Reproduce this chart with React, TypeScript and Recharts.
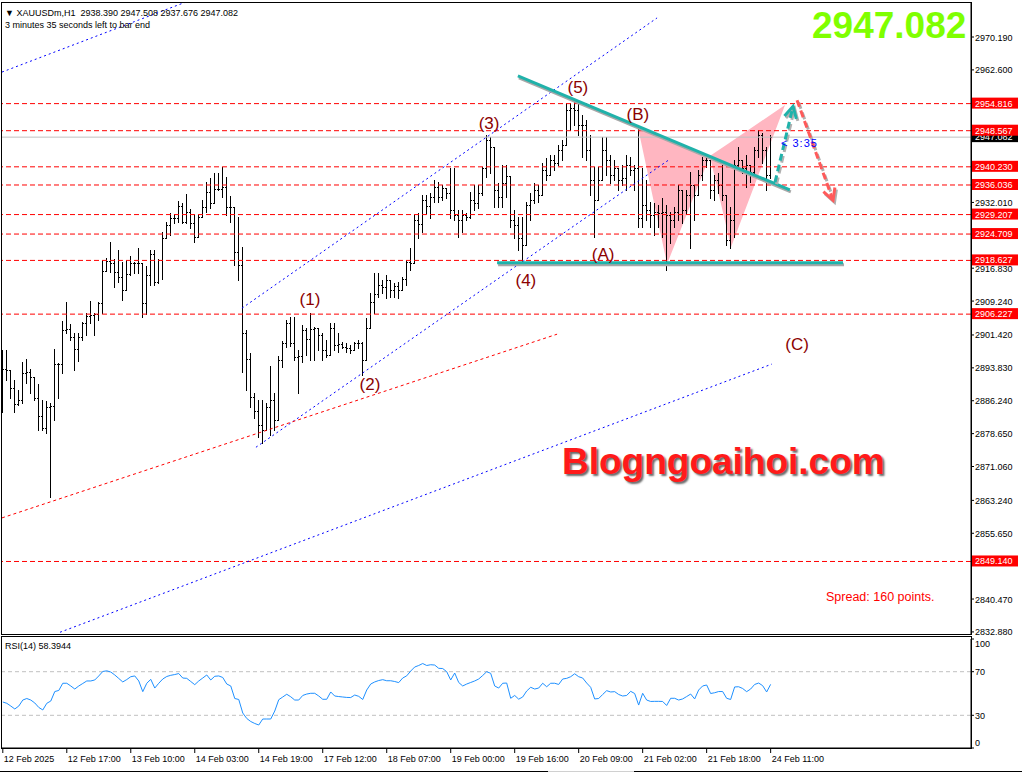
import React from "react";
import {
  ComposedChart,
  LineChart,
  Line,
  Bar,
  Area,
  XAxis,
  YAxis,
  ReferenceLine,
  ReferenceDot,
} from "recharts";

const FONT = "'Liberation Sans', Arial, sans-serif";
const W = 1022;
const MAIN_H = 640;
const X_DOMAIN: [number, number] = [-0.2, 242.1];
const PRICE_DOMAIN: [number, number] = [2832.4, 2978.04];

// XAUUSDm H1, one entry per bar
const opens = [
  2888.7, 2893.5, 2893.3, 2889.2, 2885.5, 2886.4, 2892.6, 2892.8, 2891.7, 2886.8,
  2882.7, 2879.9, 2884.8, 2885.0, 2894.7, 2894.7, 2902.5, 2902.8, 2900.9, 2898.2,
  2900.9, 2904.2, 2905.8, 2906.0, 2906.2, 2908.8, 2916.2, 2918.5, 2918.0, 2915.9,
  2914.8, 2911.8, 2915.5, 2918.0, 2918.0, 2918.0, 2908.8, 2915.2, 2920.1, 2913.6,
  2918.7, 2923.8, 2926.8, 2928.4, 2928.4, 2931.2, 2927.5, 2929.8, 2927.2, 2924.0,
  2928.6, 2930.9, 2934.4, 2931.9, 2935.1, 2935.1, 2935.5, 2930.9, 2930.9, 2920.5,
  2917.5, 2901.8, 2895.8, 2887.1, 2883.8, 2880.6, 2879.5, 2884.8, 2886.4, 2881.8,
  2895.6, 2899.5, 2904.2, 2899.5, 2896.3, 2896.5, 2902.5, 2900.5, 2902.8, 2903.0,
  2901.4, 2897.9, 2896.8, 2903.0, 2899.1, 2899.3, 2898.6, 2898.4, 2897.9, 2899.5,
  2899.5, 2895.6, 2903.0, 2909.0, 2910.8, 2912.9, 2912.5, 2914.1, 2911.8, 2912.7,
  2911.8, 2914.3, 2918.2, 2918.0, 2927.9, 2927.0, 2932.5, 2931.2, 2933.2, 2935.5,
  2933.2, 2935.3, 2934.2, 2930.2, 2929.1, 2927.9, 2929.1, 2928.6, 2932.5, 2931.9,
  2934.2, 2939.9, 2946.4, 2944.8, 2934.9, 2933.2, 2936.5, 2938.1, 2927.9, 2926.8,
  2923.8, 2922.2, 2931.4, 2932.5, 2934.9, 2933.7, 2939.5, 2938.3, 2941.8, 2941.1,
  2944.1, 2945.2, 2953.3, 2953.8, 2953.3, 2949.9, 2949.9, 2944.1, 2937.2, 2932.5,
  2937.2, 2944.1, 2941.8, 2938.3, 2939.9, 2937.2, 2937.6, 2940.6, 2939.5, 2939.9,
  2928.4, 2931.4, 2930.2, 2929.1, 2929.8, 2929.5, 2929.8, 2929.1, 2927.9, 2929.8,
  2934.9, 2930.2, 2933.7, 2936.0, 2933.7, 2938.3, 2941.8, 2941.8, 2934.9, 2937.2,
  2936.0, 2933.7, 2923.3, 2927.9, 2940.6, 2941.8, 2939.9, 2940.6, 2939.0, 2944.1,
  2947.5, 2944.1, 2938.39,
];
const highs = [
  2897.9, 2897.9, 2893.3, 2891.0, 2888.7, 2895.2, 2895.8, 2893.5, 2891.7, 2890.1,
  2886.4, 2886.2, 2885.7, 2898.2, 2894.9, 2904.6, 2909.0, 2903.9, 2901.8, 2901.8,
  2904.4, 2906.5, 2909.2, 2906.5, 2909.0, 2918.7, 2919.2, 2922.8, 2918.9, 2921.0,
  2918.2, 2918.7, 2919.6, 2918.2, 2921.5, 2918.0, 2917.3, 2921.0, 2921.0, 2918.9,
  2925.2, 2927.5, 2929.5, 2929.3, 2932.3, 2931.9, 2933.9, 2930.5, 2929.1, 2929.1,
  2932.5, 2936.7, 2937.6, 2938.8, 2938.8, 2940.2, 2937.9, 2933.5, 2930.9, 2928.6,
  2921.7, 2902.5, 2897.2, 2888.0, 2886.4, 2886.4, 2885.7, 2894.2, 2888.0, 2896.5,
  2900.0, 2904.8, 2905.5, 2905.5, 2897.9, 2903.7, 2903.0, 2906.5, 2903.2, 2903.0,
  2901.8, 2900.2, 2904.2, 2904.2, 2901.8, 2899.8, 2899.5, 2899.1, 2899.8, 2900.2,
  2899.8, 2905.3, 2911.1, 2915.7, 2915.7, 2914.1, 2915.2, 2914.1, 2913.4, 2913.6,
  2914.8, 2918.7, 2921.5, 2929.1, 2929.5, 2933.7, 2933.7, 2934.2, 2937.2, 2936.7,
  2936.0, 2935.3, 2939.9, 2939.9, 2930.2, 2930.2, 2929.5, 2934.4, 2936.0, 2936.0,
  2940.2, 2947.5, 2947.1, 2944.8, 2936.5, 2940.6, 2940.6, 2938.1, 2930.2, 2928.6,
  2928.6, 2932.1, 2934.2, 2936.5, 2936.0, 2941.1, 2942.2, 2942.9, 2942.9, 2945.2,
  2946.4, 2954.9, 2954.9, 2955.6, 2955.6, 2952.2, 2951.0, 2947.5, 2940.2, 2940.2,
  2947.1, 2947.1, 2942.9, 2941.8, 2939.9, 2940.6, 2942.9, 2942.5, 2940.6, 2949.2,
  2939.9, 2937.2, 2932.1, 2931.9, 2931.4, 2933.0, 2931.4, 2929.8, 2930.9, 2936.0,
  2934.9, 2934.9, 2939.0, 2936.0, 2939.5, 2942.5, 2942.9, 2941.8, 2938.3, 2938.8,
  2940.6, 2933.7, 2930.9, 2941.8, 2944.8, 2941.8, 2942.9, 2940.6, 2944.8, 2948.7,
  2948.0, 2944.8, 2947.508,
];
const lows = [
  2883.6, 2891.0, 2886.8, 2883.6, 2885.2, 2885.7, 2890.3, 2888.0, 2886.4, 2879.5,
  2879.5, 2878.8, 2864.0, 2881.8, 2886.8, 2892.6, 2901.8, 2900.2, 2893.3, 2895.4,
  2900.2, 2901.4, 2904.2, 2901.4, 2904.8, 2906.5, 2916.2, 2915.9, 2912.5, 2913.6,
  2909.5, 2911.8, 2915.2, 2915.7, 2915.7, 2905.5, 2906.2, 2912.9, 2912.9, 2913.4,
  2914.3, 2923.8, 2924.5, 2927.2, 2927.5, 2927.2, 2927.2, 2926.1, 2922.8, 2924.0,
  2928.6, 2929.8, 2930.7, 2931.9, 2934.9, 2933.2, 2929.1, 2927.5, 2917.5, 2914.1,
  2892.8, 2888.7, 2884.8, 2882.2, 2877.8, 2876.5, 2879.5, 2878.3, 2879.5, 2881.8,
  2894.0, 2898.6, 2898.8, 2895.6, 2888.0, 2895.2, 2896.8, 2895.6, 2895.6, 2897.9,
  2895.6, 2896.3, 2896.8, 2897.9, 2897.5, 2898.4, 2897.5, 2897.2, 2897.9, 2898.4,
  2892.2, 2895.6, 2903.0, 2906.5, 2910.2, 2911.1, 2909.9, 2910.2, 2910.2, 2909.9,
  2911.8, 2912.9, 2916.4, 2918.0, 2923.8, 2925.2, 2929.5, 2928.4, 2932.1, 2932.1,
  2932.5, 2933.0, 2928.4, 2927.9, 2924.0, 2925.2, 2927.9, 2928.4, 2930.2, 2930.7,
  2933.7, 2937.9, 2938.8, 2930.9, 2930.9, 2930.9, 2933.2, 2926.3, 2923.8, 2921.0,
  2918.2, 2922.2, 2927.9, 2931.9, 2932.1, 2933.7, 2937.2, 2938.3, 2939.5, 2940.6,
  2941.8, 2945.2, 2948.7, 2949.9, 2947.5, 2942.5, 2941.8, 2933.7, 2924.0, 2932.5,
  2937.2, 2938.3, 2936.5, 2937.2, 2934.9, 2936.0, 2934.9, 2938.3, 2934.9, 2926.3,
  2926.3, 2927.9, 2926.3, 2924.5, 2926.3, 2924.0, 2916.4, 2922.6, 2926.3, 2927.9,
  2927.2, 2929.5, 2921.5, 2927.9, 2933.7, 2937.2, 2940.2, 2933.0, 2932.5, 2934.2,
  2932.5, 2922.2, 2921.5, 2924.0, 2940.2, 2938.8, 2935.5, 2936.7, 2938.8, 2942.5,
  2941.1, 2934.9, 2937.676,
];
const closes = [
  2893.5, 2893.3, 2889.2, 2885.5, 2886.4, 2892.6, 2892.8, 2891.7, 2886.8, 2882.7,
  2879.9, 2884.8, 2885.0, 2894.7, 2894.7, 2902.5, 2902.8, 2900.9, 2898.2, 2900.9,
  2904.2, 2905.8, 2906.0, 2906.2, 2908.8, 2916.2, 2918.5, 2918.0, 2915.9, 2914.8,
  2911.8, 2915.5, 2918.0, 2918.0, 2918.0, 2908.8, 2915.2, 2920.1, 2913.6, 2918.7,
  2923.8, 2926.8, 2928.4, 2928.4, 2931.2, 2927.5, 2929.8, 2927.2, 2924.0, 2928.6,
  2930.9, 2934.4, 2931.9, 2935.1, 2935.1, 2935.5, 2930.9, 2930.9, 2920.5, 2917.5,
  2901.8, 2895.8, 2887.1, 2883.8, 2880.6, 2879.5, 2884.8, 2886.4, 2881.8, 2895.6,
  2899.5, 2904.2, 2899.5, 2896.3, 2896.5, 2902.5, 2900.5, 2902.8, 2903.0, 2901.4,
  2897.9, 2896.8, 2903.0, 2899.1, 2899.3, 2898.6, 2898.4, 2897.9, 2899.5, 2899.5,
  2895.6, 2903.0, 2909.0, 2910.8, 2912.9, 2912.5, 2914.1, 2911.8, 2912.7, 2911.8,
  2914.3, 2918.2, 2918.0, 2927.9, 2927.0, 2932.5, 2931.2, 2933.2, 2935.5, 2933.2,
  2935.3, 2934.2, 2930.2, 2929.1, 2927.9, 2929.1, 2928.6, 2932.5, 2931.9, 2934.2,
  2939.9, 2946.4, 2944.8, 2934.9, 2933.2, 2936.5, 2938.1, 2927.9, 2926.8, 2923.8,
  2922.2, 2931.4, 2932.5, 2934.9, 2933.7, 2939.5, 2938.3, 2941.8, 2941.1, 2944.1,
  2945.2, 2953.3, 2953.8, 2953.3, 2949.9, 2949.9, 2944.1, 2937.2, 2932.5, 2937.2,
  2944.1, 2941.8, 2938.3, 2939.9, 2937.2, 2937.6, 2940.6, 2939.5, 2939.9, 2928.4,
  2931.4, 2930.2, 2929.1, 2929.8, 2929.5, 2929.8, 2929.1, 2927.9, 2929.8, 2934.9,
  2930.2, 2933.7, 2936.0, 2933.7, 2938.3, 2941.8, 2941.8, 2934.9, 2937.2, 2936.0,
  2933.7, 2923.3, 2927.9, 2940.6, 2941.8, 2939.9, 2940.6, 2939.0, 2944.1, 2947.5,
  2944.1, 2938.3, 2947.082,
];

// RSI(14)
const rsiValues = [
  42.2, 41.0, 38.5, 35.8, 38.5, 44.0, 45.4, 44.0, 41.3, 37.2,
  34.9, 41.0, 43.1, 51.8, 52.8, 59.4, 59.4, 56.9, 54.1, 56.9,
  59.2, 61.5, 61.5, 62.4, 66.1, 70.2, 70.8, 69.7, 67.0, 63.8,
  60.6, 62.8, 65.4, 66.1, 61.5, 51.7, 59.4, 63.0, 55.0, 59.4,
  63.3, 65.6, 66.7, 67.4, 68.3, 64.2, 63.9, 61.0, 58.1, 61.5,
  64.2, 67.0, 62.4, 65.8, 66.1, 64.7, 58.7, 56.9, 45.4, 44.5,
  32.1, 27.1, 24.3, 22.5, 21.1, 26.6, 26.6, 26.6, 33.9, 44.3,
  46.8, 49.3, 47.0, 44.0, 44.0, 48.2, 49.5, 50.2, 50.2, 47.7,
  44.7, 44.7, 51.4, 47.7, 47.2, 46.8, 46.4, 46.3, 48.6, 47.4,
  44.5, 53.2, 58.7, 60.6, 61.9, 62.7, 61.7, 61.7, 61.0, 60.0,
  64.2, 66.2, 70.6, 74.3, 75.7, 77.5, 75.7, 76.4, 76.1, 73.1,
  72.9, 70.0, 62.4, 68.8, 60.1, 56.9, 58.7, 60.1, 61.5, 63.3,
  66.5, 70.0, 68.5, 56.9, 55.0, 59.4, 59.6, 45.6, 48.2, 44.8,
  46.8, 52.3, 55.7, 54.1, 55.0, 59.4, 56.2, 59.4, 59.4, 58.3,
  63.3, 63.9, 65.4, 68.1, 65.4, 64.2, 59.6, 55.7, 45.0, 45.4,
  49.1, 52.6, 51.4, 51.7, 49.1, 47.7, 48.2, 52.0, 50.0, 39.4,
  50.2, 44.0, 42.7, 42.8, 42.8, 42.7, 39.0, 45.6, 45.6, 44.0,
  45.0, 47.2, 49.5, 45.0, 53.2, 56.9, 57.8, 50.0, 50.7, 51.8,
  51.8, 45.6, 44.5, 56.0, 56.2, 54.6, 51.7, 54.1, 58.3, 59.6,
  57.2, 51.4, 58.3944,
];

const priceTicks = [
  2970.19, 2962.6, 2932.01, 2916.83, 2909.24, 2901.42, 2893.83,
  2886.24, 2878.65, 2871.06, 2863.24, 2855.65, 2840.47, 2832.88,
];
const levels = [2954.816, 2948.567, 2940.23, 2936.036, 2929.207, 2924.709, 2918.627, 2906.227, 2849.14];
const bidPrice = 2947.082;

const timeTicks = [0, 16, 32, 48, 64, 80, 96, 112, 128, 144, 160, 176, 192];
const timeLabels = [
  "12 Feb 2025", "12 Feb 17:00", "13 Feb 10:00", "14 Feb 03:00", "14 Feb 19:00",
  "17 Feb 12:00", "18 Feb 07:00", "19 Feb 00:00", "19 Feb 16:00", "20 Feb 09:00",
  "21 Feb 02:00", "21 Feb 18:00", "24 Feb 11:00",
];

const waveNames = ["(1)", "(2)", "(3)", "(4)", "(5)", "(A)", "(B)", "(C)"];
const waveBars = [76.8, 91.8, 121.6, 130.8, 143.8, 150.1, 158.8, 198.6];
const wavePrices = [2909.5, 2889.9, 2950.3, 2914.1, 2958.6, 2920.1, 2952.2, 2899.3];

// pink W pattern (bar position, lower edge, upper edge)
const patternBars = [158.8, 166.1, 176.8, 182.1, 195.6];
const patternLow = [2949.4, 2917.8, 2942.7, 2921.7, 2954.5];
const patternHigh = [2949.4, 2946.7, 2942.7, 2946.0, 2954.5];

// drawn objects: [bar1, price1, bar2, price2]
const dottedLines = [
  { p: [-0.2, 2962.1, 49.3, 2979.5], color: "#0000ff", dash: "2 3" },
  { p: [14.3, 2832.8, 192.3, 2894.7], color: "#0000ff", dash: "2 3" },
  { p: [59.8, 2907.6, 163.6, 2974.6], color: "#0000ff", dash: "2 3" },
  { p: [63.3, 2875.5, 166.8, 2942.0], color: "#0000ff", dash: "2 3" },
  { p: [-0.2, 2859.2, 138.6, 2901.6], color: "#ff0000", dash: "3 3" },
];
const tealLines = [
  [128.8, 2961.2, 196.8, 2934.9],
  [123.6, 2918.1, 210.1, 2918.1],
];
const arrows = [
  { p: [193.1, 2936.7, 197.6, 2954.2], color: "#20b2aa" },
  { p: [198.6, 2955.6, 207.6, 2932.5], color: "#ff5a5a" },
];

const bars = opens.map((o, i) => ({
  idx: i,
  range: [lows[i], highs[i]],
  open: o,
  high: highs[i],
  low: lows[i],
  close: closes[i],
}));
const rsiRows = rsiValues.map((v, i) => ({ idx: i, rsi: v }));
const patternRows = patternBars.map((b, i) => ({ idx: b, band: [patternLow[i], patternHigh[i]] }));

function OhlcBar(props: any) {
  const { x, y, width, height, payload } = props;
  if (x == null || y == null || !payload) return null;
  const cx = Math.round(x + width / 2 - 0.5);
  const top = Math.round(y);
  const h = Math.max(1, Math.round(y + height) - top + 1);
  const span = payload.high - payload.low || 1;
  const oy = Math.round(y + ((payload.high - payload.open) / span) * height);
  const cy = Math.round(y + ((payload.high - payload.close) / span) * height);
  return (
    <g fill="#000">
      <rect x={cx} y={top} width={1} height={h} />
      <rect x={cx - 1} y={oy} width={1} height={1} />
      <rect x={cx + 1} y={cy} width={1} height={1} />
    </g>
  );
}

function PriceTick(props: any) {
  const { x, y, payload } = props;
  return (
    <text x={x} y={y + 3.5} fontSize={9} fontFamily={FONT} fill="#000">
      {payload.value.toFixed(3)}
    </text>
  );
}

function TimeTick(props: any) {
  const { x, y, payload, index } = props;
  const i = timeTicks.indexOf(payload.value);
  return (
    <text x={x + 1} y={y + 7} fontSize={9} fontFamily={FONT} fill="#000">
      {timeLabels[i >= 0 ? i : index]}
    </text>
  );
}

function RsiTick(props: any) {
  const { x, y, payload } = props;
  const v = payload.value;
  const dy = v === 100 ? 7.5 : v === 0 ? -2.5 : 3.5;
  return (
    <text x={x} y={y + dy} fontSize={9} fontFamily={FONT} fill="#000">
      {v}
    </text>
  );
}

function tag(text: string, bg: string) {
  return (props: any) => {
    const vb = props.viewBox || {};
    const left = vb.x + vb.width + 1;
    return (
      <g>
        <rect x={left} y={vb.y - 6} width={46} height={11} fill={bg} />
        <text x={left + 3} y={vb.y + 3} fill="#fff" fontSize={9} fontFamily={FONT}>
          {text}
        </text>
      </g>
    );
  };
}

function tealShape(props: any) {
  const { x1, y1, x2, y2, clipPath } = props;
  return (
    <g clipPath={clipPath}>
      <line x1={x1 + 1} y1={y1 + 2} x2={x2 + 1} y2={y2 + 2} stroke="#a8a8a8" strokeWidth={3} />
      <line x1={x1} y1={y1} x2={x2} y2={y2} stroke="#20b2aa" strokeWidth={3} />
    </g>
  );
}

function arrowShape(color: string) {
  return (props: any) => {
    const { x1, y1, x2, y2 } = props;
    const len = Math.hypot(x2 - x1, y2 - y1) || 1;
    const ux = (x2 - x1) / len;
    const uy = (y2 - y1) / len;
    const a = (28 * Math.PI) / 180;
    const hl = 13;
    const w1x = x2 - hl * (ux * Math.cos(a) - uy * Math.sin(a));
    const w1y = y2 - hl * (uy * Math.cos(a) + ux * Math.sin(a));
    const w2x = x2 - hl * (ux * Math.cos(a) + uy * Math.sin(a));
    const w2y = y2 - hl * (uy * Math.cos(a) - ux * Math.sin(a));
    const path = `M${x1},${y1}L${x2},${y2}`;
    const head = `M${w1x},${w1y}L${x2},${y2}L${w2x},${w2y}`;
    return (
      <g fill="none" strokeWidth={3}>
        <g transform="translate(1.5,2)" stroke="#b0b0b0">
          <path d={path} strokeDasharray="7 4" />
          <path d={head} />
        </g>
        <path d={path} stroke={color} strokeDasharray="7 4" />
        <path d={head} stroke={color} />
      </g>
    );
  };
}

function waveShape(text: string) {
  return (props: any) => (
    <text
      x={props.cx}
      y={props.cy}
      textAnchor="middle"
      dominantBaseline="central"
      fontSize={17}
      fontFamily={FONT}
      fill="#8b0000"
    >
      {text}
    </text>
  );
}

const abs = (s: React.CSSProperties): React.CSSProperties => ({ position: "absolute", ...s });

export default function App() {
  return (
    <div style={abs({ left: 0, top: 0, width: W, height: 773, background: "#fff", overflow: "hidden" })}>
      {/* pattern layer */}
      <div style={abs({ left: 0, top: 0 })}>
        <ComposedChart width={W} height={MAIN_H} data={patternRows} margin={{ top: 3, right: 51, bottom: 6, left: 2 }}>
          <XAxis dataKey="idx" type="number" domain={X_DOMAIN} allowDataOverflow hide />
          <YAxis type="number" domain={PRICE_DOMAIN} allowDataOverflow hide />
          <Area dataKey="band" type="linear" stroke="none" fill="#ffb6c1" fillOpacity={1} isAnimationActive={false} />
        </ComposedChart>
      </div>

      {/* price pane */}
      <div style={abs({ left: 0, top: 0 })}>
        <ComposedChart width={W} height={MAIN_H} data={bars} margin={{ top: 3, right: 0, bottom: 6, left: 2 }}>
          <XAxis dataKey="idx" type="number" domain={X_DOMAIN} allowDataOverflow hide />
          <YAxis
            orientation="right"
            type="number"
            width={51}
            domain={PRICE_DOMAIN}
            allowDataOverflow
            ticks={priceTicks}
            interval={0}
            tickSize={3}
            tickMargin={1}
            axisLine={{ stroke: "#000" }}
            tickLine={{ stroke: "#000" }}
            tick={<PriceTick />}
          />
          <ReferenceLine y={bidPrice} stroke="#c0c0c0" label={tag(bidPrice.toFixed(3), "#000")} />
          {levels.map((lv) => (
            <ReferenceLine
              key={lv}
              y={lv}
              stroke="#ff0000"
              strokeDasharray="5 3"
              label={tag(lv.toFixed(3), "#ff0000")}
            />
          ))}
          {dottedLines.map((l, i) => (
            <ReferenceLine
              key={`d${i}`}
              segment={[{ x: l.p[0], y: l.p[1] }, { x: l.p[2], y: l.p[3] }]}
              stroke={l.color}
              strokeDasharray={l.dash}
              ifOverflow="hidden"
            />
          ))}
          <Bar dataKey="range" barSize={3} isAnimationActive={false} shape={(p: any) => <OhlcBar {...p} />} />
          {tealLines.map((l, i) => (
            <ReferenceLine
              key={`t${i}`}
              segment={[{ x: l[0], y: l[1] }, { x: l[2], y: l[3] }]}
              ifOverflow="hidden"
              shape={tealShape}
            />
          ))}
          {arrows.map((a, i) => (
            <ReferenceLine
              key={`a${i}`}
              segment={[{ x: a.p[0], y: a.p[1] }, { x: a.p[2], y: a.p[3] }]}
              ifOverflow="visible"
              shape={arrowShape(a.color)}
            />
          ))}
          {waveNames.map((n, i) => (
            <ReferenceDot key={n} x={waveBars[i]} y={wavePrices[i]} r={0} shape={waveShape(n)} />
          ))}
        </ComposedChart>
      </div>

      {/* RSI pane */}
      <div style={abs({ left: 0, top: 636 })}>
        <LineChart width={W} height={137} data={rsiRows} margin={{ top: 3, right: 0, bottom: 0, left: 2 }}>
          <XAxis
            dataKey="idx"
            type="number"
            domain={X_DOMAIN}
            allowDataOverflow
            ticks={timeTicks}
            interval={0}
            height={25}
            tickSize={5}
            tickMargin={2}
            axisLine={{ stroke: "#000" }}
            tickLine={{ stroke: "#000" }}
            tick={<TimeTick />}
          />
          <YAxis
            orientation="right"
            type="number"
            width={51}
            domain={[0, 100]}
            allowDataOverflow
            ticks={[0, 30, 70, 100]}
            interval={0}
            tickSize={3}
            tickMargin={1}
            axisLine={{ stroke: "#000" }}
            tickLine={{ stroke: "#000" }}
            tick={<RsiTick />}
          />
          <ReferenceLine y={70} stroke="#c0c0c0" strokeDasharray="4 3" />
          <ReferenceLine y={30} stroke="#c0c0c0" strokeDasharray="4 3" />
          <Line dataKey="rsi" type="linear" stroke="#1e90ff" strokeWidth={1} dot={false} isAnimationActive={false} />
        </LineChart>
      </div>

      {/* pane frames */}
      <div style={abs({ left: 1, top: 2, width: 971, height: 633, border: "1px solid #000", boxSizing: "border-box", pointerEvents: "none" })} />
      <div style={abs({ left: 1, top: 636, width: 971, height: 113, border: "1px solid #000", boxSizing: "border-box", pointerEvents: "none" })} />
      <div style={abs({ left: 0, top: 771, width: 548, height: 1, background: "#000" })} />
      <div style={abs({ left: 548, top: 771, width: 86, height: 1, background: "#d0d0d0" })} />
      <div style={abs({ left: 634, top: 771, width: 388, height: 1, background: "#000" })} />

      {/* texts */}
      <div style={abs({ left: 5, top: 7, fontFamily: FONT, fontSize: 9, lineHeight: "12px", whiteSpace: "pre", color: "#000" })}>
        {"▼ XAUUSDm,H1  2938.390 2947.508 2937.676 2947.082"}
      </div>
      <div style={abs({ left: 5, top: 19, fontFamily: FONT, fontSize: 9, lineHeight: "12px", whiteSpace: "pre", color: "#000" })}>
        3 minutes 35 seconds left to bar end
      </div>
      <div style={abs({ left: 812, top: 7, fontFamily: FONT, fontSize: 37, fontWeight: 700, lineHeight: "37px", color: "#7fff00" })}>
        2947.082
      </div>
      <div style={abs({ left: 781, top: 137, fontFamily: FONT, fontSize: 11, lineHeight: "12px", letterSpacing: 1, color: "#0000ff" })}>
        {"< 3:35"}
      </div>
      <div
        style={abs({
          left: 562,
          top: 443,
          fontFamily: FONT,
          fontSize: 37,
          fontWeight: 700,
          lineHeight: "37px",
          color: "#ff1a1a",
          textShadow: "2px 2px 2px #6a6a6a",
        })}
      >
        Blogngoaihoi.com
      </div>
      <div style={abs({ left: 826, top: 590, fontFamily: FONT, fontSize: 12.5, lineHeight: "14px", color: "#ff0000" })}>
        Spread: 160 points.
      </div>
      <div style={abs({ left: 5, top: 640, fontFamily: FONT, fontSize: 9, lineHeight: "12px", color: "#000" })}>
        RSI(14) 58.3944
      </div>
    </div>
  );
}
